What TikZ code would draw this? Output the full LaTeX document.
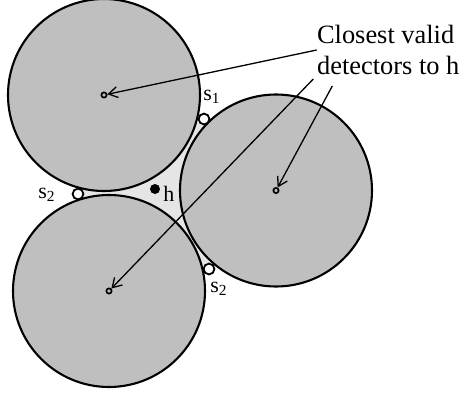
\documentclass[tikz,border=0pt]{standalone}
\usepackage{fontspec}
\setmainfont{Liberation Serif}
\usetikzlibrary{arrows.meta}

\begin{document}
\begin{tikzpicture}[x=0.5pt,y=0.5pt,
  disc/.style={draw,line width=1.05pt,fill=gray!50},
  sensor/.style={circle,draw,line width=0.9pt,fill=white,inner sep=0pt,minimum size=5.4pt},
  ctr/.style={circle,draw,line width=0.85pt,inner sep=0pt,minimum size=2.6pt},
  lbl/.style={inner sep=0pt,anchor=base west,font=\fontsize{11}{13}\selectfont},
  note/.style={inner sep=0pt,anchor=base west,font=\fontsize{13.2}{16}\selectfont},
  ptr/.style={line width=0.65pt,-{Straight Barb[length=4.5pt,width=5.5pt]}}]
  \useasboundingbox (0,0) rectangle (462,393);
  % gap points between the three detector ranges
  \coordinate (p1) at (204,274);
  \coordinate (p2) at (78,199);
  \coordinate (p3) at (209,124);
  \fill[gray!20] (p1) -- (p2) -- (p3) -- cycle;
  % detector ranges, r = 96
  \foreach \p in {(104,298),(276,202.5),(109,102)} \draw[disc] \p circle[radius=96];
  \node[ctr] (ctop) at (104,298) {};
  \node[ctr] (cright) at (276,202.5) {};
  \node[ctr] (cbot) at (109,102) {};
  \node[sensor] (s1) at (p1) {};
  \node[sensor] (s2) at (p2) {};
  \node[sensor] (s3) at (p3) {};
  \node[circle,fill=black,inner sep=0pt,minimum size=5pt] (hole) at (155,204) {};
  \node[lbl] (s1lab) at (203,292.5) {s\textsubscript{1}};
  \node[lbl] (s2lab) at (38,195) {s\textsubscript{2}};
  \node[lbl] (s3lab) at (210,100.7) {s\textsubscript{2}};
  \node[lbl] (hlab) at (163,191.5) {h};
  % annotation
  \node[note] (line1) at (316.7,350) {Closest valid};
  \node[note] (line2) at (316.7,319) {detectors to h};
  \coordinate (a1) at (316.7,343);
  \coordinate (a2) at (313.3,314);
  \coordinate (a3) at (332.3,307);
  \draw[ptr] (a1) -- (ctop);
  \draw[ptr] (a2) -- (cbot);
  \draw[ptr] (a3) -- (cright);
\end{tikzpicture}
\end{document}
